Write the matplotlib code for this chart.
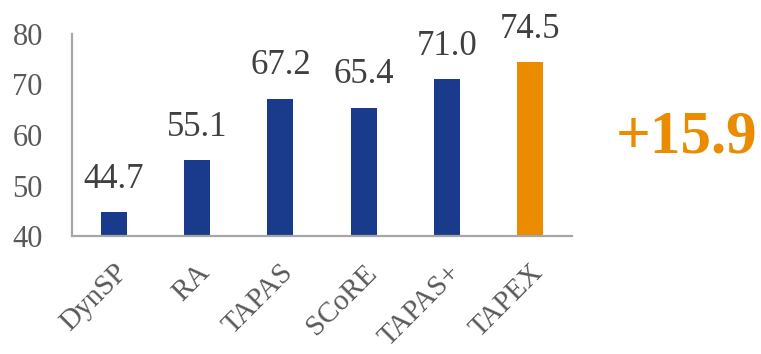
import numpy as np
import matplotlib
matplotlib.use("Agg")
import matplotlib.pyplot as plt

# accuracy per model
models = ["DynSP", "RA", "TAPAS", "SCoRE", "TAPAS+", "TAPEX"]
scores = [44.7, 55.1, 67.2, 65.4, 71.0, 74.5]
gain_text = "+15.9"
y_ticks = [40, 50, 60, 70, 80]

BLUE = "#1a3a8c"
ORANGE = "#ea8b00"

plt.rcParams["font.family"] = ["Liberation Serif", "DejaVu Serif"]

fig = plt.figure(figsize=(7.61, 3.54), dpi=100)
ax = fig.add_axes([0.0946, 0.3333, 0.657, 0.5707])

x = np.arange(len(models))
colors = [BLUE] * (len(models) - 1) + [ORANGE]
ax.bar(x, [s - 40 for s in scores], bottom=40, width=0.31, color=colors, zorder=2)

for xi, s in zip(x, scores):
    ax.text(xi, s + 4.8, f"{s:.1f}", ha="center", va="baseline",
            fontsize=25, color="#404040")

ax.set_xlim(-0.5, len(models) - 0.5)
ax.set_ylim(40, 80)
ax.set_yticks(y_ticks)
ax.set_yticklabels([str(t) for t in y_ticks], fontsize=22, color="#595959")
ax.set_xticks(x)
ax.set_xticklabels(models, fontsize=21, color="#595959", rotation=45,
                   ha="right", rotation_mode="anchor")
ax.tick_params(axis="y", length=0, pad=21)
ax.tick_params(axis="x", length=0, pad=17)

for side in ("top", "right"):
    ax.spines[side].set_visible(False)
for side in ("left", "bottom"):
    ax.spines[side].set_color("#a6a6a6")
    ax.spines[side].set_linewidth(1.6)

# improvement over the best earlier model
fig.text(0.995, 1 - 153 / 354, gain_text, ha="right", va="baseline",
         fontsize=44, fontweight="bold", color=ORANGE)

fig.savefig("out.png", dpi=100)
